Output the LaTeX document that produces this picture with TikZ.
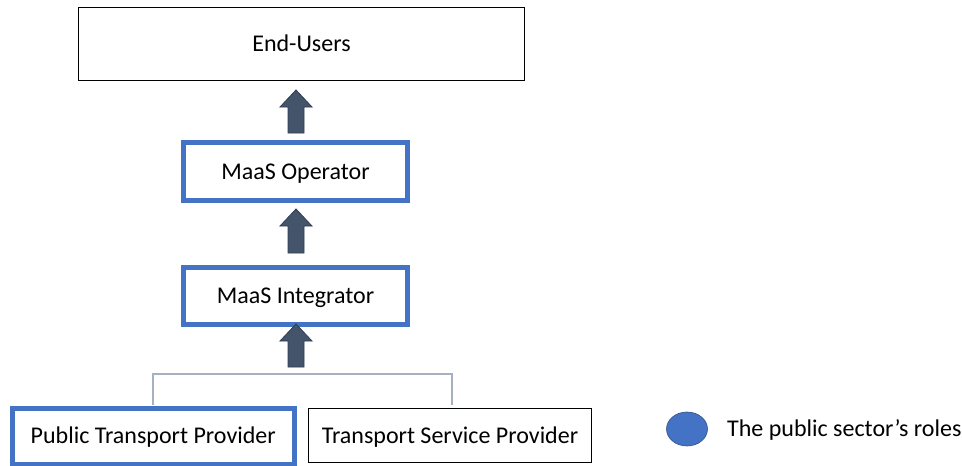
\documentclass[tikz,border=0pt]{standalone}
\usepackage{fontspec}
\setmainfont{Carlito}
\usetikzlibrary{calc,shapes.geometric}
\definecolor{roleblue}{HTML}{4472C4}
\definecolor{slate}{HTML}{44546A}
\definecolor{slateedge}{HTML}{2F3D52}
\definecolor{bracket}{HTML}{A5B0C0}
\tikzset{
  label/.style={font=\fontsize{24}{27}\selectfont, text=black, inner sep=0pt,
                text height=15.5pt, text depth=0pt},
  plainbox/.style={label, draw=black, line width=1pt, fill=white},
  rolebox/.style={label, draw=roleblue, line width=5pt, fill=white},
  blockarrow/.style={fill=slate, draw=slateedge, line width=0.8pt},
  joinline/.style={draw=bracket, line width=1.5pt}
}
% upward block arrow: #1 = tail point, #2 = tip point (same x)
\newcommand{\uparrowblock}[2]{%
  \path[blockarrow] ($(#1)+(-8,0)$) -- ($(#2)+(-8,17)$) -- ($(#2)+(-16,17)$)
    -- (#2) -- ($(#2)+(16,17)$) -- ($(#2)+(8,17)$) -- ($(#1)+(8,0)$) -- cycle;}
\begin{document}
\begin{tikzpicture}[x=1pt,y=-1pt]
  \useasboundingbox (0,0) rectangle (962,466);

  % boxes of the value chain
  \node[plainbox, minimum width=446pt, minimum height=73pt] (eu) at (301.5,44) {End-Users};
  \node[rolebox, minimum width=224pt, minimum height=58pt] (op) at (295.5,171.5) {MaaS Operator};
  \node[rolebox, minimum width=224pt, minimum height=57pt] (in) at (295.5,296) {MaaS Integrator};
  \node[rolebox, minimum width=282.5pt, minimum height=56pt] (ptp) at (153.25,436) {Public Transport Provider};
  \node[plainbox, minimum width=283pt, minimum height=54pt] (tsp) at (450,435.5) {Transport Service Provider};

  % bracket joining the two providers
  \coordinate (jl) at (153,405);
  \coordinate (jr) at (452,405);
  \draw[joinline] (jl) -- (153,374) -- (452,374) -- (jr);

  % block arrows between levels
  \coordinate (a1t) at (296,133); \coordinate (a1h) at (296,90);
  \coordinate (a2t) at (296,253); \coordinate (a2h) at (296,209);
  \coordinate (a3t) at (296,367); \coordinate (a3h) at (296,324);
  \uparrowblock{a1t}{a1h}
  \uparrowblock{a2t}{a2h}
  \uparrowblock{a3t}{a3h}

  % legend
  \node[ellipse, fill=roleblue, draw=roleblue!70!black, line width=0.6pt,
        minimum width=41pt, minimum height=34pt, inner sep=0pt] (key) at (687,429) {};
  \node[label, anchor=west] (keytext) at (727,429) {The public sector’s roles};
\end{tikzpicture}
\end{document}
